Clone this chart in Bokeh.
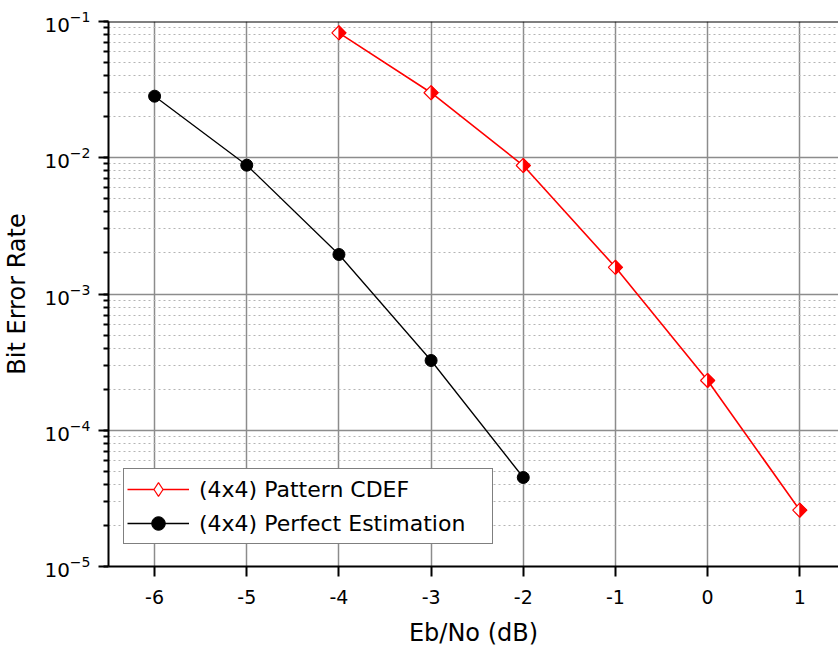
from bokeh.plotting import figure
from bokeh.models import (Legend, LegendItem, Span, LogTicker, FixedTicker,
                          CustomJSTickFormatter)
from bokeh.embed import file_html
from bokeh.resources import INLINE

# ---- data ----
snr_cdef = [-4, -3, -2, -1, 0, 1]
ber_cdef = [0.0826, 0.030, 0.00877, 0.00157, 0.000232, 2.59e-5]
snr_perfect = [-6, -5, -4, -3, -2]
ber_perfect = [0.0283, 0.00882, 0.00195, 0.000325, 4.5e-5]
x_ticks = [-6, -5, -4, -3, -2, -1, 0, 1]
label_cdef = "(4x4) Pattern CDEF"
label_perfect = "(4x4) Perfect Estimation"

FONT = "DejaVu Sans"
X_START, X_END = -6.5, 1.42
Y_START, Y_END = 1e-5, 1e-1
FRAME_W, FRAME_H = 730, 545

p = figure(x_range=(X_START, X_END), y_range=(Y_START, Y_END), y_axis_type="log",
           frame_width=FRAME_W, frame_height=FRAME_H,
           min_border_left=100, min_border_right=0, min_border_top=21, min_border_bottom=80,
           output_backend="svg", toolbar_location=None)
p.outline_line_color = None
p.background_fill_color = "white"

# grids
p.xgrid.ticker = FixedTicker(ticks=x_ticks)
p.xgrid.grid_line_color = "#8c8c8c"
p.xgrid.grid_line_width = 1.5
p.ygrid.grid_line_color = "#8c8c8c"
p.ygrid.grid_line_width = 1.5
p.ygrid.minor_grid_line_color = "#b4b4b4"
p.ygrid.minor_grid_line_dash = "2 3"
p.ygrid.minor_grid_line_width = 1

# axes
xa = p.xaxis[0]
xa.ticker = FixedTicker(ticks=x_ticks)
xa.formatter = CustomJSTickFormatter(code="return String(tick);")
xa.axis_label = "Eb/No (dB)"
xa.axis_label_text_font = FONT
xa.axis_label_text_font_size = "24px"
xa.axis_label_text_font_style = "normal"
xa.axis_label_text_color = "black"
xa.axis_label_standoff = 12
xa.major_label_text_font = FONT
xa.major_label_text_font_size = "19px"
xa.major_label_text_color = "black"
xa.major_label_standoff = 13
xa.axis_line_width = 2
xa.axis_line_color = "black"
xa.major_tick_line_width = 2
xa.major_tick_line_color = "black"
xa.major_tick_out = 10
xa.major_tick_in = 0
xa.minor_tick_line_color = None

ya = p.yaxis[0]
ya.ticker = LogTicker(num_minor_ticks=10)
ya.axis_label = "Bit Error Rate"
ya.axis_label_text_font = FONT
ya.axis_label_text_font_size = "24px"
ya.axis_label_text_font_style = "normal"
ya.axis_label_text_color = "black"
ya.axis_label_standoff = 10
ya.major_label_text_font = FONT
ya.major_label_text_font_size = "20px"
ya.major_label_text_color = "black"
ya.major_label_standoff = 8
ya.axis_line_width = 2
ya.axis_line_color = "black"
ya.major_tick_line_width = 2
ya.major_tick_line_color = "black"
ya.major_tick_out = 10
ya.major_tick_in = 0
ya.minor_tick_line_width = 2
ya.minor_tick_line_color = "black"
ya.minor_tick_out = 5
ya.minor_tick_in = 0

# top frame line
p.add_layout(Span(location=Y_END, dimension="width", line_color="black", line_width=2))

# series: perfect estimation
l_perf = p.line(snr_perfect, ber_perfect, line_color="black", line_width=1.3)
s_perf = p.scatter(snr_perfect, ber_perfect, marker="circle", size=12,
                   fill_color="black", line_color="black")

# series: pattern CDEF
l_cdef = p.line(snr_cdef, ber_cdef, line_color="#ff0000", line_width=1.6)
# diamond used for the legend symbol (hidden below the plotted symbol)
s_cdef_leg = p.scatter(snr_cdef, ber_cdef, marker="diamond", size=12,
                       fill_color="white", line_color="#ff0000", line_width=1.2)
s_cdef = p.scatter(snr_cdef, ber_cdef, marker="square", angle=0.785398, size=10,
                   fill_color="white", line_color="#ff0000", line_width=1.2)

# right half of each diamond filled (half-width/height in px converted through scales)
half_px = 7.0
dx = half_px * (X_END - X_START) / FRAME_W
fy = 10 ** (half_px * 4.0 / FRAME_H)
xs = [[x, x + dx, x] for x in snr_cdef]
ys = [[y * fy, y, y / fy] for y in ber_cdef]
p.patches(xs, ys, fill_color="#ff0000", line_color="#ff0000", line_width=1)

legend = Legend(items=[LegendItem(label=label_cdef, renderers=[l_cdef, s_cdef_leg]),
                       LegendItem(label=label_perfect, renderers=[l_perf, s_perf])],
                location=(15, 22), orientation="vertical",
                glyph_width=62, glyph_height=34, padding=3, spacing=0, margin=0,
                label_standoff=10, label_width=290,
                label_text_font=FONT, label_text_font_size="22px",
                label_text_color="black",
                border_line_color="black", border_line_width=1.5,
                background_fill_color="white", background_fill_alpha=1.0)
p.add_layout(legend)

open("out.html", "w").write(file_html(p, INLINE))
